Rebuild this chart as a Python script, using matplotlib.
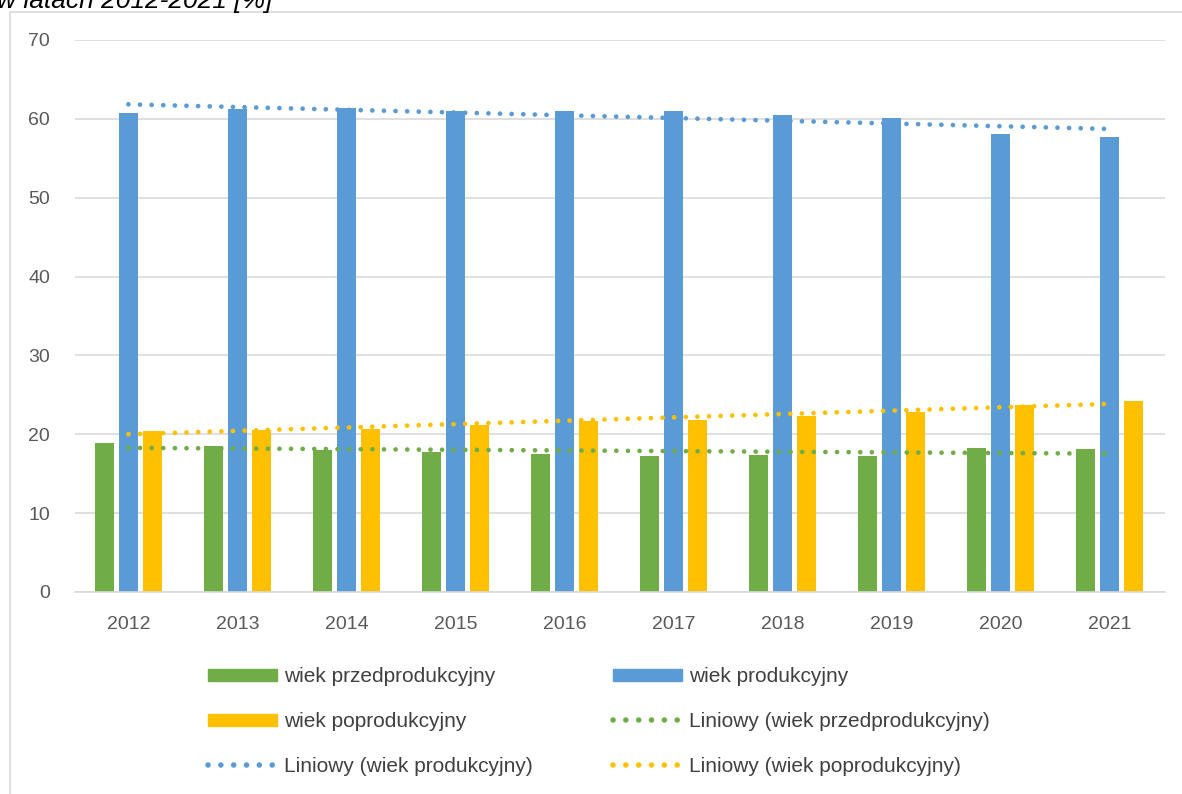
import numpy as np
import matplotlib
matplotlib.use("Agg")
import matplotlib.pyplot as plt
from matplotlib.patches import Rectangle, Patch
from matplotlib.lines import Line2D

''' DATA '''
years = ["2012", "2013", "2014", "2015", "2016", "2017", "2018", "2019", "2020", "2021"]
przed = [18.9, 18.5, 18.0, 17.8, 17.5, 17.3, 17.4, 17.3, 18.3, 18.1]
prod = [60.7, 61.3, 61.4, 61.0, 61.0, 61.0, 60.5, 60.1, 58.1, 57.7]
poprod = [20.4, 20.5, 20.7, 21.2, 21.7, 21.8, 22.3, 22.8, 23.7, 24.2]
series_names = ["wiek przedprodukcyjny", "wiek produkcyjny", "wiek poprodukcyjny"]
colors = ["#70ad47", "#5b9bd5", "#ffc000"]

plt.rcParams['font.family'] = ['Liberation Sans', 'DejaVu Sans']

W, H = 1182, 794
fig = plt.figure(figsize=(W / 100, H / 100), dpi=100)

# chart frame (partly outside the picture)
fig.patches.append(Rectangle((10 / W, -0.1), 1.2, 1 - 12 / H + 0.1,
                             transform=fig.transFigure, fill=False,
                             edgecolor="#d9d9d9", linewidth=1.2))
fig.text(-3 / W, 1 - 8 / H, "w latach 2012-2021 [%]", fontsize=19,
         style="italic", va="baseline", ha="left", color="#000000")

ax = fig.add_axes([75 / W, 202 / H, 1090 / W, 552 / H])

x = np.arange(len(years))
w = 0.175
off = 0.22
data = [przed, prod, poprod]
for i, vals in enumerate(data):
    ax.bar(x + (i - 1) * off, vals, width=w, color=colors[i], zorder=2)

# linear trendlines (as in Excel)
dots = (0, (0.01, 2.45))
for i, vals in enumerate(data):
    a, b = np.polyfit(x, vals, 1)
    ax.plot(x, a * x + b, color=colors[i], linewidth=3.4,
            linestyle=dots, dash_capstyle="round", zorder=3)

ax.set_xlim(-0.49, 9.51)
ax.set_ylim(0, 70)
ax.set_yticks(range(0, 71, 10))
ax.set_xticks(x)
ax.set_xticklabels(years)
ax.yaxis.grid(True, color="#d9d9d9", linewidth=1.2, zorder=0)
ax.set_axisbelow(True)
for s in ["top", "right", "left"]:
    ax.spines[s].set_visible(False)
ax.spines["bottom"].set_color("#d9d9d9")
ax.spines["bottom"].set_linewidth(1.2)
ax.tick_params(axis="both", length=0, labelsize=14, colors="#595959")
ax.tick_params(axis="x", pad=17)
ax.tick_params(axis="y", pad=18)

# legend, two columns placed separately
def trend_handle(c):
    return Line2D([], [], color=c, linewidth=4, linestyle=(0, (0.01, 2.3)),
                  dash_capstyle="round")

col1_h = [Patch(color=colors[0]), Patch(color=colors[2]), trend_handle(colors[1])]
col1_l = [series_names[0], series_names[2], "Liniowy (" + series_names[1] + ")"]
col2_h = [Patch(color=colors[1]), trend_handle(colors[0]), trend_handle(colors[2])]
col2_l = [series_names[1], "Liniowy (" + series_names[0] + ")",
          "Liniowy (" + series_names[2] + ")"]

leg_kw = dict(loc="upper left", frameon=False, fontsize=15, handlelength=3.3,
              handleheight=0.5, labelspacing=1.25, handletextpad=0.35,
              borderpad=0, borderaxespad=0, labelcolor="#404040")
for hs, ls, x0 in [(col1_h, col1_l, 208), (col2_h, col2_l, 613)]:
    leg = fig.legend(hs, ls, bbox_to_anchor=(x0 / W, 1 - 667 / H), **leg_kw)

fig.savefig("out.png", dpi=100)
